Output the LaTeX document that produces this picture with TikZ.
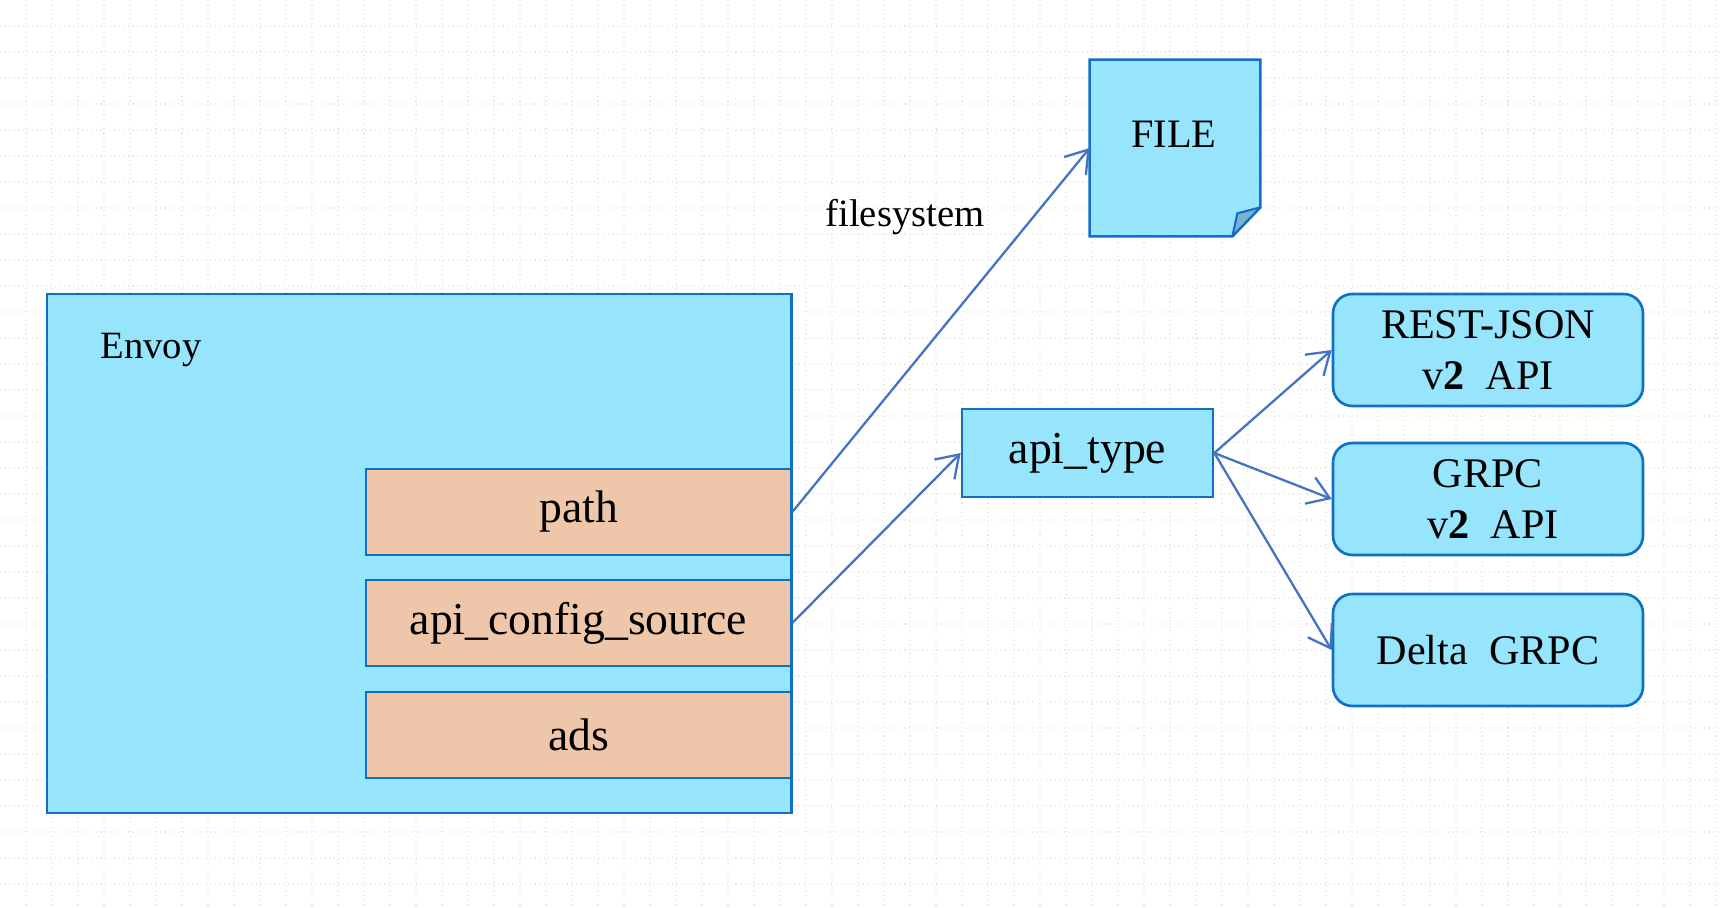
\documentclass[tikz,border=0pt]{standalone}
\usepackage{fontspec}
\setmainfont{Liberation Serif}
\usepackage{xcolor}
\usetikzlibrary{arrows.meta}

\definecolor{boxfill}{HTML}{96E5FD}
\definecolor{boxline}{HTML}{1071C4}
\definecolor{fieldfill}{HTML}{EEC6A9}
\definecolor{arrowline}{HTML}{4472C4}
\definecolor{foldfill}{HTML}{78B4D2}

\tikzset{
    envoybox/.style={draw=boxline, fill=boxfill, line width=1.7pt, minimum width=744*0.02cm, minimum height=519*0.02cm, inner sep=0pt},
    fieldbox/.style={draw=boxline, fill=fieldfill, line width=1.5pt, minimum width=425*0.02cm, minimum height=86*0.02cm, inner sep=0pt, font=\fontsize{26}{30}\selectfont},
    typebox/.style={draw=boxline, fill=boxfill, line width=1.5pt, minimum width=251*0.02cm, minimum height=88*0.02cm, inner sep=0pt, font=\fontsize{26}{30}\selectfont},
    apibox/.style={draw=boxline, fill=boxfill, line width=1.5pt, rounded corners=11pt, minimum width=310*0.02cm, minimum height=112*0.02cm, inner sep=0pt, align=center, font=\fontsize{24}{29}\selectfont},
    link/.style={draw=arrowline, line width=1.3pt, -{Straight Barb[length=12pt,width=16pt,line width=1.3pt]}},
    gridline/.style={draw=black!9, dotted, line width=0.6pt}
}

\begin{document}
\begin{tikzpicture}[x=0.02cm, y=-0.02cm]
    \useasboundingbox (0, 0) rectangle (1720, 908);
    % background grid
    \foreach \gx in {26,52,...,1716} \draw[gridline] (\gx, 0) -- (\gx, 908);
    \foreach \gy in {26,52,...,906} \draw[gridline] (0, \gy) -- (1720, \gy);

    % Envoy and its fields
    \node[envoybox] (envoy) at (419, 553.5) {};
    \node[font=\fontsize{22}{26}\selectfont] (envoylabel) at (151, 350) {Envoy};
    \node[fieldbox] (path) at (578.5, 512) {path};
    \node[fieldbox] (apisource) at (578.5, 623) {api\_config\_source};
    \node[fieldbox] (ads) at (578.5, 735) {ads};

    % file with folded corner
    \node[minimum width=170*0.02cm, minimum height=176*0.02cm, inner sep=0pt] (file) at (1175, 148) {};
    \filldraw[draw=boxline, fill=boxfill, line width=1.5pt, line join=miter]
        (file.north west) -- (file.north east) -- ([yshift=29*0.02cm]file.south east)
        -- ([xshift=-28*0.02cm]file.south east) -- (file.south west) -- cycle;
    \filldraw[draw=boxline, fill=foldfill, line width=1.2pt, line join=round]
        ([xshift=-28*0.02cm]file.south east) -- ([xshift=-23*0.02cm, yshift=23*0.02cm]file.south east)
        -- ([yshift=29*0.02cm]file.south east) -- cycle;
    \node[font=\fontsize{23}{27}\selectfont] (filelabel) at (1174, 134) {FILE};

    % api type and its variants
    \node[typebox] (apitype) at (1087.5, 453) {api\_type};
    \node[apibox] (rest) at (1488, 350) {REST-JSON\\v\textbf{2}\ \ API};
    \node[apibox] (grpc) at (1488, 499) {GRPC\\\ v\textbf{2}\ \ API};
    \node[apibox] (delta) at (1488, 650) {Delta\ \ GRPC};

    \draw[link] (path.east) -- (file.west);
    \node[font=\fontsize{22}{26}\selectfont] (fslabel) at (905, 217) {filesystem};
    \draw[link] (apisource.east) -- (apitype.west);
    \draw[link] (apitype.east) -- (rest.west);
    \draw[link] (apitype.east) -- (grpc.west);
    \draw[link] (apitype.east) -- (delta.west);
\end{tikzpicture}
\end{document}
